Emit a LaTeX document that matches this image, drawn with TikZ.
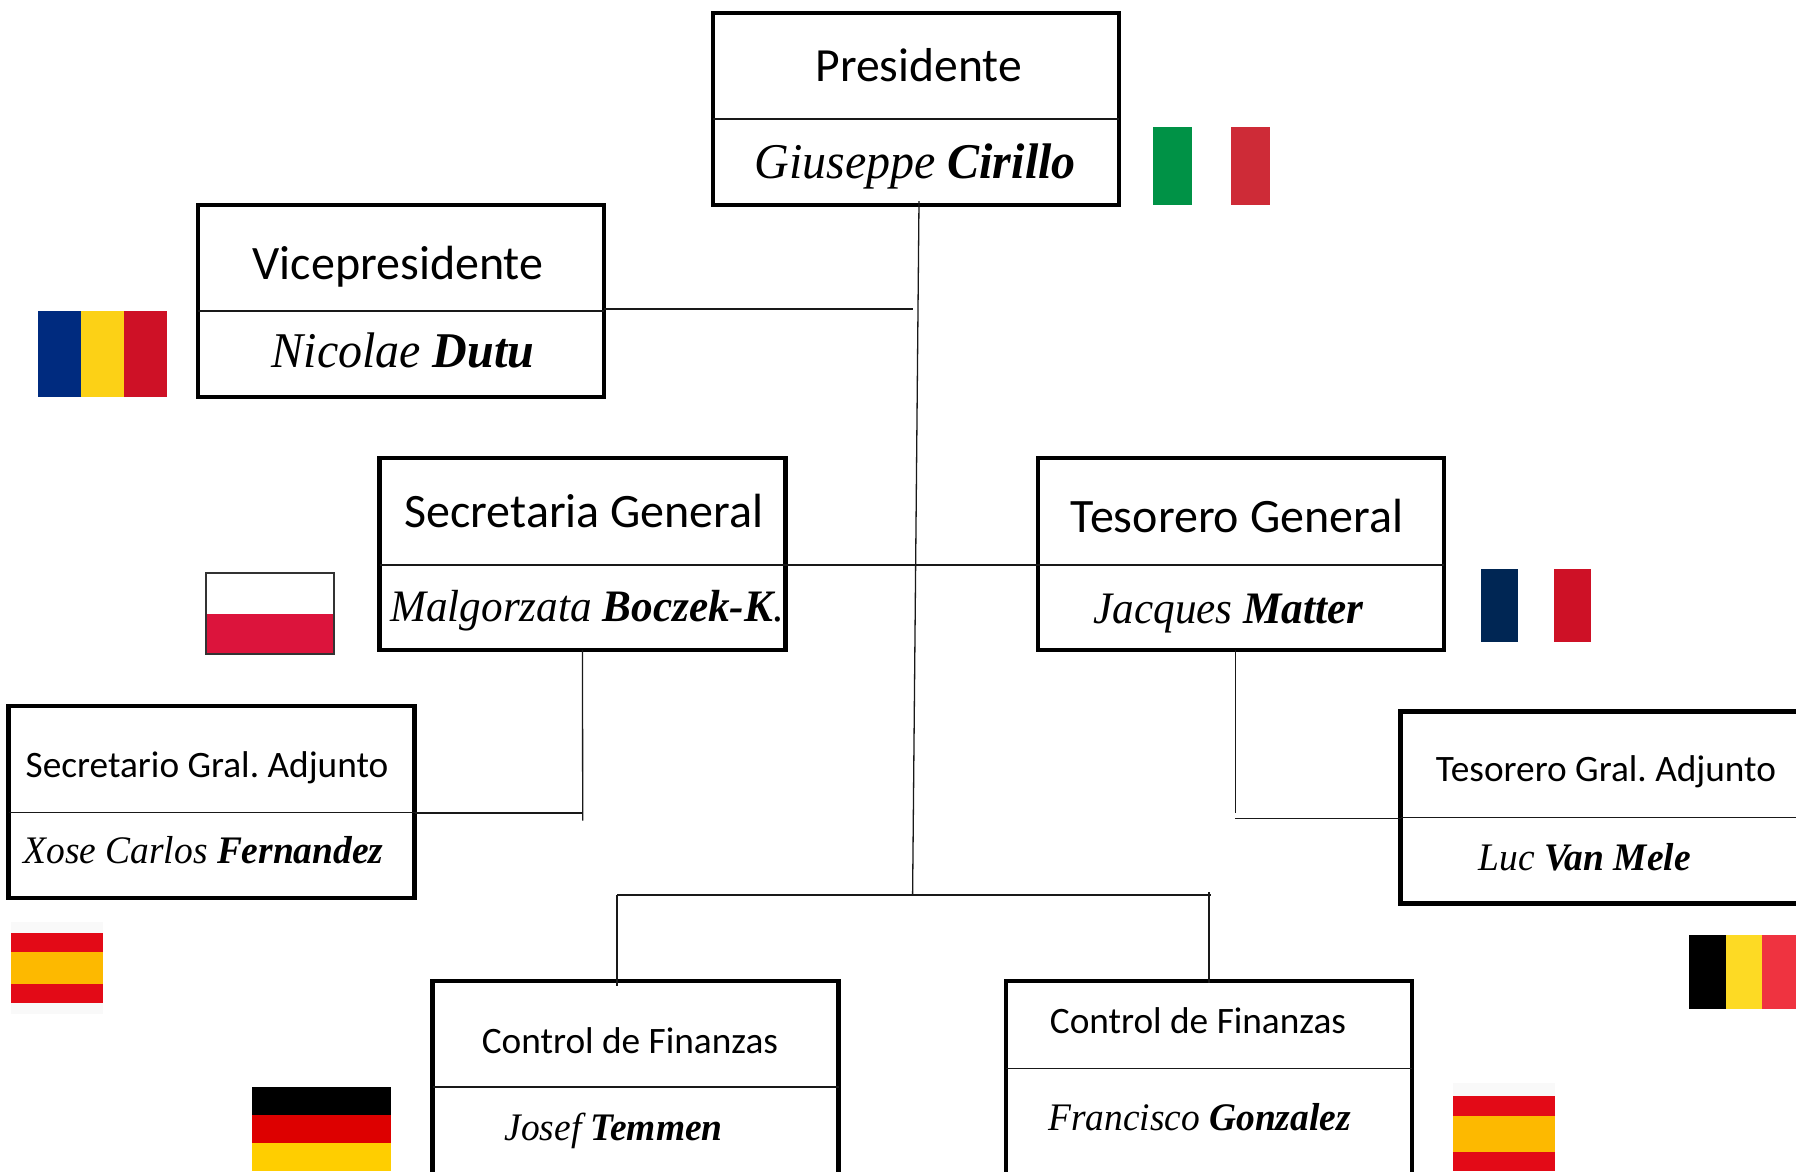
\documentclass[tikz,border=0pt]{standalone}
\usepackage{fontspec}
\setmainfont[FakeStretch=0.96]{Liberation Serif}
\newfontfamily\titlefont{Carlito}
\definecolor{itG}{HTML}{009246}\definecolor{itR}{HTML}{CE2B37}
\definecolor{roB}{HTML}{002B7F}\definecolor{roY}{HTML}{FCD116}\definecolor{roR}{HTML}{CE1126}
\definecolor{plR}{HTML}{DC143C}\definecolor{frB}{HTML}{002654}\definecolor{frR}{HTML}{CE1126}
\definecolor{esR}{HTML}{E30A17}\definecolor{esY}{HTML}{FDB900}\definecolor{esB}{HTML}{F9F9F9}
\definecolor{deR}{HTML}{DD0000}\definecolor{deY}{HTML}{FFCE00}
\definecolor{beY}{HTML}{FDDA24}\definecolor{beR}{HTML}{EF3340}
\tikzset{
  orgbox/.style={draw=black,line width=4.4pt,rectangle,inner sep=0pt,outer sep=0pt,minimum width=406pt,minimum height=192pt},
  divider/.style={draw=black!90,line width=1.5pt},
  link/.style={draw=black!90,line width=1.3pt},
  role/.style={anchor=base,inner sep=0pt,font=\titlefont\fontsize{#1}{#1}\selectfont},
  person/.style={anchor=base,inner sep=0pt,font=\fontsize{#1}{#1}\selectfont\itshape},
}
\newcommand{\surname}[1]{\textbf{#1}}
\begin{document}
\begin{tikzpicture}[x=1pt,y=-1pt]
\clip (0,0) rectangle (1796,1171);
% boxes
\node[orgbox] (pres) at (915.7,108.7) {};
\node[orgbox] (vice) at (400.7,300.8) {};
\node[orgbox] (sec) at (582.5,553.8) {};
\node[orgbox] (tes) at (1240.8,553.8) {};
\node[orgbox] (secadj) at (211.5,802) {};
\node[orgbox] (tesadj) at (1603.5,807.3) {};
\node[orgbox,minimum height=232pt] (ctrla) at (635.5,1097) {};
\node[orgbox,minimum height=232pt] (ctrlb) at (1209,1097) {};
% dividers
\coordinate (dpres) at (0,119);
\coordinate (dvice) at (0,311);
\coordinate (dsec) at (0,565);
\coordinate (dsecadj) at (0,812.7);
\coordinate (dtesadj) at (0,817.7);
\coordinate (dctrla) at (0,1087);
\coordinate (dctrlb) at (0,1068.7);
\draw[divider] (pres.west |- dpres) -- (pres.east |- dpres);
\draw[divider] (vice.west |- dvice) -- (vice.east |- dvice);
\draw[divider] (sec.west |- dsec) -- (sec.east |- dsec);
\draw[divider] (tes.west |- dsec) -- (tes.east |- dsec);
\draw[divider] (secadj.west |- dsecadj) -- (secadj.east |- dsecadj);
\draw[divider] (tesadj.west |- dtesadj) -- (tesadj.east |- dtesadj);
\draw[divider] (ctrla.west |- dctrla) -- (ctrla.east |- dctrla);
\draw[divider] (ctrlb.west |- dctrlb) -- (ctrlb.east |- dctrlb);
% connector points
\coordinate (ptop) at (919,201);
\coordinate (busj) at (912.6,895);
\coordinate (vicej) at (912.6,309);
\coordinate (secend) at (582.7,820.7);
\coordinate (secj) at (582.7,813);
\coordinate (testop) at (1235.4,650);
\coordinate (tesend) at (1235.4,813);
\coordinate (tesj) at (1235.4,818.7);
\coordinate (busl) at (617,895);
\coordinate (busr) at (1211,895);
\coordinate (dropl) at (617,985.7);
\coordinate (dropra) at (1209,892);
\coordinate (droprb) at (1209,983);
% connectors
\draw[link] (ptop) -- (busj);
\draw[link] (vice.east |- vicej) -- (vicej);
\draw[link] (sec.east |- dsec) -- (tes.west |- dsec);
\draw[link] (sec.south) -- (secend);
\draw[link] (secadj.east |- secj) -- (secj);
\draw[link] (testop) -- (tesend);
\draw[link] (tesj) -- (tesadj.west |- tesj);
\draw[link] (busl) -- (busr);
\draw[link] (busl) -- (dropl);
\draw[link] (dropra) -- (droprb);
% texts
\node[role=47.6] (t1) at (918.6,81) {Presidente};
\node[person=50] (n1) at (915,178) {Giuseppe \surname{Cirillo}};
\node[role=48] (t2) at (398,279.5) {Vicepresidente};
\node[person=50] (n2) at (403,367) {Nicolae \surname{Dutu}};
\node[role=48] (t3) at (584,527.5) {Secretaria General};
\node[person=45] (n3) at (587,621) {Malgorzata \surname{Boczek-K}.};
\node[role=48] (t4) at (1237,532.5) {Tesorero General};
\node[person=45] (n4) at (1228.6,623) {Jacques \surname{Matter}};
\node[role=37.3] (t5) at (207,777.7) {Secretario Gral.\ Adjunto};
\node[person=39] (n5) at (203.5,863.7) {Xose Carlos \surname{Fernandez}};
\node[role=37.3] (t6) at (1606,781.7) {Tesorero Gral.\ Adjunto};
\node[person=39] (n6) at (1584.6,870) {Luc \surname{Van Mele}};
\node[role=37.3] (t7) at (630,1053.3) {Control de Finanzas};
\node[person=39] (n7) at (613.5,1140) {Josef \surname{Temmen}};
\node[role=37.3] (t8) at (1198,1033.7) {Control de Finanzas};
\node[person=39] (n8) at (1199.5,1130) {Francisco \surname{Gonzalez}};
% flags
\fill[itG] (1153,127) rectangle (1192,205);
\fill[itR] (1231,127) rectangle (1270,205);
\fill[roB] (38,311) rectangle (81,397);
\fill[roY] (81,311) rectangle (124,397);
\fill[roR] (124,311) rectangle (167,397);
\fill[plR] (206,613.6) rectangle (334,654);
\draw[black!80,line width=1.2pt] (206,573) rectangle (334,654);
\fill[frB] (1481,569) rectangle (1518,642);
\fill[frR] (1554,569) rectangle (1591,642);
\fill[esB] (11,922) rectangle (103,1014);
\fill[esR] (11,933) rectangle (103,1003);
\fill[esY] (11,952) rectangle (103,984);
\fill[black] (252,1087) rectangle (391,1115);
\fill[deR] (252,1115) rectangle (391,1143);
\fill[deY] (252,1143) rectangle (391,1171);
\fill[black] (1689,935) rectangle (1726,1009);
\fill[beY] (1726,935) rectangle (1762,1009);
\fill[beR] (1762,935) rectangle (1796,1009);
\fill[esB] (1453,1083) rectangle (1555,1171);
\fill[esR] (1453,1096) rectangle (1555,1171);
\fill[esY] (1453,1116) rectangle (1555,1152);
\end{tikzpicture}
\end{document}
